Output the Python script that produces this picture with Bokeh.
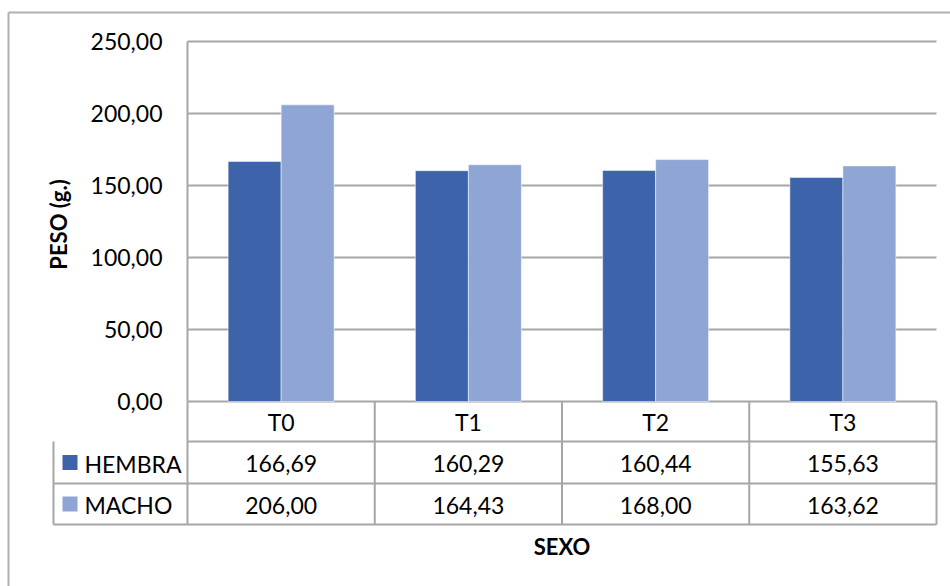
import math
from bokeh.plotting import figure
from bokeh.models import Range1d, FixedTicker, CustomJSTickFormatter, ColumnDataSource, LinearAxis
from bokeh.transform import dodge
from bokeh.core.properties import value
from bokeh.embed import file_html
from bokeh.resources import INLINE

# ---------------- data ----------------
categories = ["T0", "T1", "T2", "T3"]
series_names = ["HEMBRA", "MACHO"]
hembra = [166.69, 160.29, 160.44, 155.63]
macho = [206.00, 164.43, 168.00, 163.62]
y_ticks = [0, 50, 100, 150, 200, 250]
x_title = "SEXO"
y_title = "PESO (g.)"

# ---------------- styles / layout ----------------
W, H = 950, 586
FRAME_L, FRAME_R, FRAME_T, ZERO_PX = 187, 936, 41, 401
Y_MAX = 250
PX_PER_CAT = (FRAME_R - FRAME_L) / len(categories)
PX_PER_UNIT = (ZERO_PX - FRAME_T) / Y_MAX
BAR_W = 53 / PX_PER_CAT
COLORS = ["#3d64ab", "#8fa5d4"]
GRID = "#a6a6a6"
BORDER = "#b0b0b0"
FONT = "Lato"
FS = "23px"
ROW_Y = [ZERO_PX, 441, 483, 524]
LEG_L = 53


def xd(px):
    return (px - FRAME_L) / PX_PER_CAT


def yd(py):
    return Y_MAX - (py - FRAME_T) / PX_PER_UNIT


def fmt(v):
    return f"{v:.2f}".replace(".", ",")


p = figure(width=W, height=H, x_range=Range1d(xd(0), xd(W)),
           y_range=Range1d(yd(H), yd(0)), output_backend="svg", toolbar_location=None,
           x_axis_type=None, y_axis_type=None, min_border=0)
p.outline_line_color = None
p.background_fill_color = "white"
p.border_fill_color = "white"
p.xgrid.visible = False
p.ygrid.visible = False

# y axis fixed at the left edge of the plot area
ya = LinearAxis(fixed_location=0, ticker=FixedTicker(ticks=y_ticks), bounds=(0, Y_MAX))
ya.formatter = CustomJSTickFormatter(code="return tick.toFixed(2).replace('.', ',')")
ya.major_tick_line_color = None
ya.minor_tick_line_color = None
ya.major_tick_out = 0
ya.major_tick_in = 0
ya.axis_line_color = GRID
ya.axis_line_width = 2
ya.major_label_text_font = FONT
ya.major_label_text_font_size = FS
ya.major_label_text_color = "black"
ya.major_label_standoff = 25
p.add_layout(ya, "left")

# horizontal gridlines across the plot area
n = len(categories)
p.segment(x0=[0] * len(y_ticks), x1=[n] * len(y_ticks), y0=y_ticks, y1=y_ticks,
          line_color=GRID, line_width=2)

src = ColumnDataSource(dict(
    x=[i + 0.5 for i in range(n)],
    cat=categories,
    hembra=hembra,
    macho=macho,
    hembra_lbl=[fmt(v) for v in hembra],
    macho_lbl=[fmt(v) for v in macho],
))

p.vbar(x=dodge("x", -BAR_W / 2, range=p.x_range), top="hembra", width=BAR_W, source=src,
       fill_color=COLORS[0], line_color="white", line_alpha=0.5, line_width=1)
p.vbar(x=dodge("x", BAR_W / 2, range=p.x_range), top="macho", width=BAR_W, source=src,
       fill_color=COLORS[1], line_color="white", line_alpha=0.5, line_width=1)

# ---------------- data table ----------------
txt = dict(text_font=value(FONT), text_font_size=FS, text_color="black",
           text_align="center", text_baseline="middle")
p.text(x="x", y=yd((ROW_Y[0] + ROW_Y[1]) / 2), text="cat", source=src, **txt)
p.text(x="x", y=yd((ROW_Y[1] + ROW_Y[2]) / 2 + 1), text="hembra_lbl", source=src, **txt)
p.text(x="x", y=yd((ROW_Y[2] + ROW_Y[3]) / 2 + 1), text="macho_lbl", source=src, **txt)

# table lines
hx0 = [0, xd(LEG_L), xd(LEG_L)]
hy = [yd(ROW_Y[1]), yd(ROW_Y[2]), yd(ROW_Y[3])]
p.segment(x0=hx0, x1=[n] * 3, y0=hy, y1=hy, line_color=GRID, line_width=2)
vx = list(range(0, n + 1))
p.segment(x0=vx, x1=vx, y0=[0] * len(vx), y1=[yd(ROW_Y[3])] * len(vx),
          line_color=GRID, line_width=2)
p.segment(x0=[xd(LEG_L)], x1=[xd(LEG_L)], y0=[yd(ROW_Y[1])], y1=[yd(ROW_Y[3])],
          line_color=GRID, line_width=2)

# legend keys in the table
key_cy = [(ROW_Y[r] + ROW_Y[r + 1]) / 2 for r in (1, 2)]
p.quad(left=[xd(62)] * 2, right=[xd(77)] * 2,
       top=[yd(c - 7.5) for c in key_cy], bottom=[yd(c + 7.5) for c in key_cy],
       fill_color=COLORS, line_color=None)
p.text(x=[xd(84)] * 2, y=[yd(c + 1) for c in key_cy], text=series_names,
       text_font=value(FONT), text_font_size=FS, text_color="black",
       text_align="left", text_baseline="middle")

# titles
p.text(x=[n / 2], y=[yd(546)], text=[x_title], text_font=value(FONT),
       text_font_size="22px", text_font_style="bold", text_color="black",
       text_align="center", text_baseline="middle")
p.text(x=[xd(58)], y=[yd(224)], text=[y_title], angle=math.pi / 2, text_font=value(FONT),
       text_font_size="22px", text_font_style="bold", text_color="black",
       text_align="center", text_baseline="middle")

# outer chart border (left and top edges visible)
p.segment(x0=[xd(8), xd(8)], x1=[xd(8), xd(W + 20)], y0=[yd(H + 20), yd(12)],
          y1=[yd(12), yd(12)], line_color=BORDER, line_width=2)

open("out.html", "w").write(file_html(p, INLINE))
